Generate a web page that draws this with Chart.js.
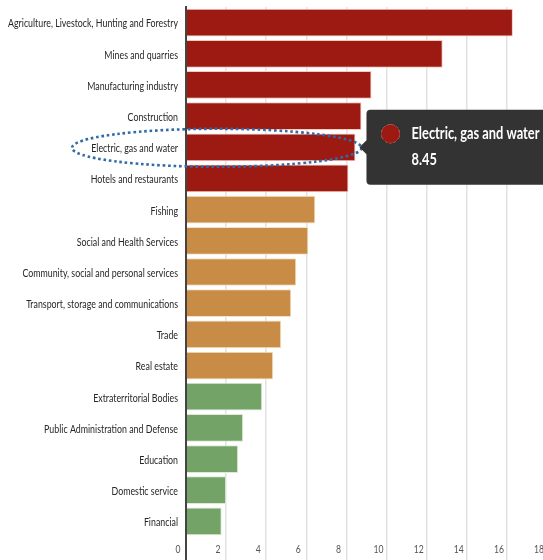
<!DOCTYPE html>
<html>
<head>
<meta charset="utf-8">
<script src="https://cdn.jsdelivr.net/npm/chart.js@4/dist/chart.umd.min.js"></script>
<style>
  html, body { margin: 0; padding: 0; background: #ffffff; overflow: hidden; }
  #wrap { position: relative; width: 700px; height: 560px; }
</style>
</head>
<body>
<div id="wrap"><canvas id="c"></canvas></div>
<script>
const categories = [
  "Agriculture, Livestock, Hunting and Forestry",
  "Mines and quarries",
  "Manufacturing industry",
  "Construction",
  "Electric, gas and water",
  "Hotels and restaurants",
  "Fishing",
  "Social and Health Services",
  "Community, social and personal services",
  "Transport, storage and communications",
  "Trade",
  "Real estate",
  "Extraterritorial Bodies",
  "Public Administration and Defense",
  "Education",
  "Domestic service",
  "Financial"
];
const values = [16.3, 12.8, 9.25, 8.75, 8.45, 8.1, 6.45, 6.1, 5.5, 5.25, 4.75, 4.35, 3.8, 2.85, 2.6, 2.0, 1.78];
const tiers = ["high","high","high","high","high","high","mid","mid","mid","mid","mid","mid","low","low","low","low","low"];
const xTicks = [0, 2, 4, 6, 8, 10, 12, 14, 16, 18];
const highlightIndex = 4;

const FAMILY = "Lato, 'Open Sans', Roboto, sans-serif";
const LABEL_SIZE = 12, TICK_SIZE = 10.5, TIP_SIZE = 17;
const fill = { high: "#9c1a12", mid: "#c88c46", low: "#73a366" };
const edge = { high: "#f6c9bd", mid: "#f3e3c2", low: "#dcead6" };

// horizontal condensing factors (reference uses a narrow typeface)
const mctx = document.createElement("canvas").getContext("2d");
function widthOf(text, font) { mctx.font = font; return mctx.measureText(text).width; }
const kLabel = 170 / Math.max(...categories.map(c => widthOf(c, LABEL_SIZE + "px " + FAMILY)));
const kTick = 10 / widthOf("16", TICK_SIZE + "px " + FAMILY);
const kTip = 128 / widthOf(categories[highlightIndex], "bold " + TIP_SIZE + "px " + FAMILY);

function condensed(ctx, k, fn) {
  const orig = CanvasRenderingContext2D.prototype.fillText;
  ctx.fillText = function (t, x, y) {
    this.save(); this.translate(x, 0); this.scale(k, 1); orig.call(this, t, 0, y); this.restore();
  };
  try { fn(); } finally { delete ctx.fillText; }
}

const condensePlugin = {
  id: "condense",
  beforeDraw(chart) {
    const ys = chart.scales.y, xs = chart.scales.x, tt = chart.tooltip;
    if (ys && !ys._cPatched) {
      const o = ys.drawLabels;
      ys.drawLabels = function (a) { condensed(this.ctx, kLabel, () => o.call(this, a)); };
      ys._cPatched = true;
    }
    if (xs && !xs._cPatched) {
      const o = xs.drawLabels;
      xs.drawLabels = function (a) { condensed(this.ctx, kTick, () => o.call(this, a)); };
      xs._cPatched = true;
    }
    if (tt && !tt._cPatched) {
      const o = tt.drawBody;
      tt.drawBody = function (pt, ctx, opts) { condensed(ctx, kTip, () => o.call(this, pt, ctx, opts)); };
      tt._cPatched = true;
    }
  }
};

const ellipsePlugin = {
  id: "ellipseMark",
  afterDatasetsDraw(chart) {
    const ctx = chart.ctx;
    const y = chart.scales.y.getPixelForValue(highlightIndex);
    const right = chart.scales.x.getPixelForValue(values[highlightIndex]) + 6;
    const left = 72;
    const cx = (left + right) / 2, rx = (right - left) / 2, ry = 19;
    ctx.save();
    ctx.strokeStyle = "#2f6aa9";
    ctx.lineWidth = 2.6;
    ctx.setLineDash([2.6, 2.8]);
    ctx.beginPath();
    ctx.ellipse(cx, y + 0.5, rx, ry, 0, 0, Math.PI * 2);
    ctx.stroke();
    ctx.restore();
  }
};

const chart = new Chart(document.getElementById("c"), {
  type: "bar",
  data: {
    labels: categories,
    datasets: [{
      data: values,
      backgroundColor: tiers.map(t => fill[t]),
      borderColor: tiers.map(t => edge[t]),
      borderWidth: 1,
      barPercentage: 0.89,
      categoryPercentage: 1.0
    }]
  },
  options: {
    indexAxis: "y",
    responsive: true,
    maintainAspectRatio: false,
    animation: false,
    events: [],
    layout: { padding: { top: 7, right: 153, left: 0, bottom: 0 } },
    plugins: {
      legend: { display: false },
      tooltip: {
        enabled: true,
        backgroundColor: "#333333",
        xAlign: "left",
        yAlign: "center",
        caretSize: 7,
        caretPadding: 4,
        cornerRadius: 4,
        padding: { left: 15, right: 15, top: 12, bottom: 13 },
        displayColors: true,
        usePointStyle: true,
        boxWidth: 18,
        boxHeight: 18,
        boxPadding: 10,
        bodyFont: { family: FAMILY, size: TIP_SIZE, weight: "bold", lineHeight: 1.41 },
        bodyColor: "#ffffff",
        callbacks: {
          title: () => "",
          label: (c) => [categories[c.dataIndex], values[c.dataIndex].toFixed(2)],
          labelColor: (c) => ({ borderColor: fill[tiers[c.dataIndex]], backgroundColor: fill[tiers[c.dataIndex]] }),
          labelPointStyle: () => ({ pointStyle: "circle", rotation: 0 })
        }
      }
    },
    scales: {
      x: {
        type: "linear",
        min: 0,
        max: 18,
        afterBuildTicks: (s) => { s.ticks = xTicks.map(v => ({ value: v })); },
        afterFit: (s) => { s.height = 23; },
        grid: {
          color: (c) => (c.tick && c.tick.value === 0) ? "#444444" : "#e2e2e2",
          lineWidth: (c) => (c.tick && c.tick.value === 0) ? 2 : 1.5,
          drawTicks: true,
          tickLength: 23,
          tickColor: (c) => (c.tick && c.tick.value === 0) ? "#444444" : "#e2e2e2",
          tickWidth: (c) => (c.tick && c.tick.value === 0) ? 2 : 1.5
        },
        border: { display: false },
        ticks: {
          font: { family: FAMILY, size: TICK_SIZE },
          color: "#555555",
          padding: -17,
          labelOffset: -8,
          maxRotation: 0,
          autoSkip: false
        }
      },
      y: {
        afterFit: (s) => { s.width = 186; s.paddingTop = 0; s.paddingBottom = 0; },
        grid: { display: false, drawTicks: false },
        border: { display: true, color: "#444444", width: 2 },
        ticks: {
          font: { family: FAMILY, size: LABEL_SIZE },
          color: "#262626",
          padding: 8,
          labelOffset: 1,
          autoSkip: false
        }
      }
    }
  },
  plugins: [condensePlugin, ellipsePlugin]
});

const el = chart.getDatasetMeta(0).data[highlightIndex];
chart.tooltip.setActiveElements([{ datasetIndex: 0, index: highlightIndex }], { x: el.x, y: el.y });
chart.update("none");
</script>
</body>
</html>
